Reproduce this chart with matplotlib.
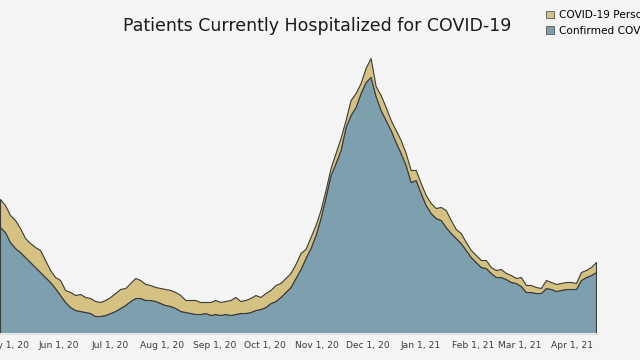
import matplotlib
matplotlib.use("Agg")
import matplotlib.pyplot as plt
import matplotlib.dates as mdates
from matplotlib.patches import Patch
import numpy as np
import pandas as pd

# ---- data (arbitrary units, the y axis is not shown) ----
start_date = "2020-04-27"
end_date = "2021-04-15"

confirmed = [107, 102, 92, 86, 82, 77, 72, 67, 62, 57, 52, 46, 39, 32, 27, 24, 23, 22, 21, 18,
             18, 19, 21, 23, 26, 29, 33, 36, 36, 34, 34, 33, 31, 29, 28, 26, 23, 22, 21, 20,
             20, 21, 19, 20, 19, 20, 19, 20, 21, 21, 22, 24, 25, 27, 31, 33, 37, 42, 47, 56,
             65, 76, 86, 99, 116, 137, 159, 171, 184, 207, 219, 227, 241, 252, 257, 238, 224, 214, 204, 192,
             181, 169, 152, 154, 141, 129, 121, 116, 114, 107, 101, 96, 91, 84, 77, 72, 67, 66, 61, 57,
             57, 55, 52, 51, 48, 42, 42, 41, 41, 46, 45, 43, 44, 45, 45, 45, 54, 57, 59, 62]

persons_under_investigation = [28, 27, 27, 28, 24, 19, 19, 20, 22, 17, 12, 11, 15, 12, 15, 15, 17, 15, 15, 15,
                               14, 15, 16, 18, 19, 17, 18, 20, 18, 16, 15, 14, 15, 16, 16, 16, 16, 12, 13, 14,
                               12, 11, 13, 14, 13, 13, 15, 17, 12, 13, 14, 15, 12, 14, 13, 16, 14, 14, 14, 14,
                               16, 9, 11, 10, 8, 7, 7, 10, 12, 7, 15, 14, 10, 14, 19, 10, 15, 13, 10, 12,
                               13, 12, 12, 10, 10, 10, 10, 10, 13, 17, 13, 9, 10, 8, 7, 7, 7, 8, 6, 7,
                               8, 6, 7, 5, 9, 7, 7, 6, 5, 8, 7, 7, 7, 7, 7, 6, 8, 7, 8, 10]

series_labels = ["COVID-19 Persons Under Investigation", "Confirmed COVID-19"]
title = "Patients Currently Hospitalized for COVID-19"
tick_dates = ["2020-05-01", "2020-06-01", "2020-07-01", "2020-08-01", "2020-09-01", "2020-10-01",
              "2020-11-01", "2020-12-01", "2021-01-01", "2021-02-01", "2021-03-01", "2021-04-01"]
tick_labels = ["May 1, 20", "Jun 1, 20", "Jul 1, 20", "Aug 1, 20", "Sep 1, 20", "Oct 1, 20",
               "Nov 1, 20", "Dec 1, 20", "Jan 1, 21", "Feb 1, 21", "Mar 1, 21", "Apr 1, 21"]

# ---- styling ----
BG = "#f4f4f4"
BLUE = "#7e9fae"
TAN = "#d5c282"
EDGE = "#3a3a3a"

dates = pd.date_range(start_date, end_date, periods=len(confirmed))

fig = plt.figure(figsize=(6.4, 3.6), dpi=100, facecolor=BG)
ax = fig.add_axes([0.0, 26 / 360, 596 / 640, 294 / 360])
ax.set_facecolor(BG)

ax.stackplot(dates, confirmed, persons_under_investigation,
             colors=[BLUE, TAN], edgecolor=EDGE, linewidth=0.8)

ax.set_xlim(dates[0], dates[-1])
ax.set_ylim(0, 294)

for s in ["left", "right", "top"]:
    ax.spines[s].set_visible(False)
ax.spines["bottom"].set_color("white")
ax.spines["bottom"].set_linewidth(1.2)
ax.spines["bottom"].set_zorder(5)

ax.set_yticks([])
ax.set_xticks(pd.to_datetime(tick_dates))
ax.set_xticklabels(tick_labels, fontsize=6.6, color="#3a3a3a")
ax.tick_params(axis="x", length=0, pad=5)

fig.text(317 / 640, 1 - 26 / 360, title, ha="center", va="center",
         fontsize=12.5, color="#1a1a1a")

handles = [Patch(facecolor=TAN, edgecolor="#555555", linewidth=0.6),
           Patch(facecolor=BLUE, edgecolor="#555555", linewidth=0.6)]
fig.legend(handles, series_labels, loc="upper left",
           bbox_to_anchor=(544 / 640, 1 - 8 / 360), frameon=False,
           fontsize=7.6, handlelength=0.75, handleheight=0.75, handletextpad=0.45,
           labelspacing=0.55, borderaxespad=0, borderpad=0.2)

fig.savefig("out.png", dpi=100, facecolor=BG)
